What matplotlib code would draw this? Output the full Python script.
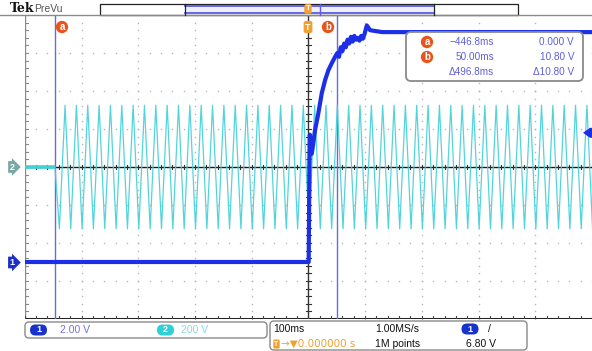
import matplotlib
matplotlib.use("Agg")
import matplotlib.pyplot as plt
import numpy as np
from matplotlib.patches import FancyBboxPatch, Rectangle, Polygon
from matplotlib.transforms import Affine2D

# ---------------- data ----------------
time_per_div_ms = 100
ch1_volts_per_div = 2.0
ch2_volts_per_div = 200
ch1_offset_div = -2.5
ch2_offset_div = 0.0
cursor_a_ms = -446.8
cursor_b_ms = 50.0
cursor_a_v = 0.000
cursor_b_v = 10.80
trigger_level_v = 6.80

# channel 1 (blue): DC output, steps up at trigger then ramps to plateau
ch1_t_ms = [-500, 0, 0.5, 1.8, 2.5, 6, 11.8, 17.6, 23.6, 29.5, 35.3, 41.3, 47.1,
            51, 54, 57, 60, 63, 66, 69, 72, 75, 78, 81, 84, 87, 90, 93, 96, 99,
            103, 108.8, 130, 500]
ch1_v = [0, 0, 0, 5.0, 6.7, 5.7, 6.95, 7.84, 8.89, 9.58, 10.1, 10.47, 10.8,
         11.0, 10.8, 11.3, 11.1, 11.5, 11.3, 11.7, 11.5, 11.85, 11.6, 11.9, 11.7,
         11.8, 11.65, 11.9, 11.75, 12.0, 12.45, 12.2, 12.1, 12.1]

# channel 2 (cyan): mains voltage, switched on at cursor a; extrema of each half cycle
ch2_t_ms = [-500, -446.8,
            -439, -429, -419, -409, -399, -389, -379, -369, -359, -349, -339, -329,
            -319, -309, -299, -289, -279, -269, -259, -249, -239, -229, -219, -209,
            -199, -189, -179, -169, -159, -149, -139, -129, -119, -109, -99, -89,
            -79, -69, -59, -49, -39, -29, -19, -9, 1, 11, 21, 31, 41, 51, 61, 71,
            81, 91, 101, 111, 121, 131, 141, 151, 161, 171, 181, 191, 201, 211,
            221, 231, 241, 251, 261, 271, 281, 291, 301, 311, 321, 331, 341, 351,
            361, 371, 381, 391, 401, 411, 421, 431, 441, 451, 461, 471, 481, 491, 501]
ch2_v = [0, 0,
         -325, 325, -325, 325, -325, 325, -325, 325, -325, 325, -325, 325,
         -325, 325, -325, 325, -325, 325, -325, 325, -325, 325, -325, 325,
         -325, 325, -325, 325, -325, 325, -325, 325, -325, 325, -325, 325,
         -325, 325, -325, 325, -325, 325, -325, 325, -325, 325, -325, 325,
         -325, 325, -325, 325, -325, 325, -325, 325, -325, 325, -325, 325,
         -325, 325, -325, 325, -325, 325, -325, 325, -325, 325, -325, 325,
         -325, 325, -325, 325, -325, 325, -325, 325, -325, 325, -325, 325,
         -325, 325, -325, 325, -325, 325, -325, 325, -325, 325, -325]

# ---------------- figure ----------------
W, H = 592, 351
fig = plt.figure(figsize=(W / 100, H / 100), dpi=100)
fig.patch.set_facecolor("white")
pix = Affine2D().scale(1.0 / W, -1.0 / H).translate(0, 1) + fig.transFigure
FONT = "Liberation Sans"

# plot area: 10 x 8 divisions
X0, X1, Y0, Y1 = 24.8, 592, 15, 319
ax = fig.add_axes([X0 / W, 1 - Y1 / H, (X1 - X0) / W, (Y1 - Y0) / H])
ax.set_xlim(-5 * time_per_div_ms, 5 * time_per_div_ms)
ax.set_ylim(-4, 4)
ax.axis("off")

dotc = "#b4b4b4"
for xm in range(-4, 5):
    if xm == 0:
        continue
    ys = np.arange(-4, 4.001, 0.2)
    ax.plot(np.full_like(ys, xm * time_per_div_ms), ys, ls="none", marker="s",
            ms=1.0, mew=0, color=dotc, zorder=1)
for ym in range(-3, 4):
    if ym == 0:
        continue
    xs = np.arange(-500, 500.1, 20)
    ax.plot(xs, np.full_like(xs, ym), ls="none", marker="s", ms=1.0, mew=0,
            color=dotc, zorder=1)

# centre cross with minor ticks
ax.axhline(0, color="#1a1a1a", lw=1.0, zorder=2)
ax.axvline(0, color="#333333", lw=1.0, zorder=2)
for yy in np.arange(-4, 4.001, 0.2):
    ax.plot([-5, 5], [yy, yy], color="#333333", lw=0.8, zorder=2)
for xx in np.arange(-500, 500.1, 20):
    ax.plot([xx, xx], [-0.06, 0.06], color="#333333", lw=0.8, zorder=2)
# borders
ax.axvline(-500, color="#8a8a8a", lw=1.0, zorder=2)
for yy in np.arange(-4, 4.001, 0.2):
    ax.plot([-500, -495], [yy, yy], color="#8a8a8a", lw=0.8, zorder=2)
ax.axhline(-4, color="#222222", lw=2.2, zorder=2)
for xx in np.arange(-500, 500.1, 20):
    ax.plot([xx, xx], [-4, -3.93], color="#444444", lw=0.8, zorder=2)

# cursors
curc = "#6a6ae0"
ax.axvline(cursor_a_ms, color=curc, lw=1.0, zorder=3)
ax.axvline(cursor_b_ms, color=curc, lw=1.0, zorder=3)

# traces
c2 = "#40d0d8"
t2 = np.array(ch2_t_ms)
v2 = np.array(ch2_v) / ch2_volts_per_div + ch2_offset_div
ax.plot(t2, v2, color=c2, lw=0.9, alpha=0.9, zorder=4)
ax.plot(t2[:2], v2[:2], color=c2, lw=2.6, zorder=4, solid_capstyle="butt")

c1 = "#1c2fe6"
t1 = np.array(ch1_t_ms)
v1 = np.array(ch1_v) / ch1_volts_per_div + ch1_offset_div
ax.plot(t1, v1, color=c1, lw=3.0, zorder=5, solid_joinstyle="round")

# ---------------- header ----------------
fig.add_artist(plt.Line2D([0, W], [Y0, Y0], transform=pix, color="#8a8a8a", lw=1.0))
fig.text(10, 8.5, "Tek", transform=pix, fontsize=9, fontweight="bold",
         family="DejaVu Serif", color="#111111", va="center", ha="left")
fig.text(34, 8.5, "PreVu", transform=pix, fontsize=7.5, family=FONT,
         color="#555555", va="center", ha="left")
fig.add_artist(Rectangle((100, 3.5), 418, 11, transform=pix, fc="white",
                         ec="#222222", lw=0.9))
fig.add_artist(Rectangle((185, 6), 249, 7, transform=pix, fc="#eef0ff",
                         ec="none"))
fig.add_artist(plt.Line2D([185, 434], [6, 6], transform=pix, color="#5b5be6", lw=1.3))
fig.add_artist(plt.Line2D([185, 434], [13, 13], transform=pix, color="#5b5be6", lw=1.3))
fig.add_artist(plt.Line2D([185, 185], [3.5, 14.5], transform=pix, color="#222222", lw=0.9))
fig.add_artist(plt.Line2D([434, 434], [3.5, 14.5], transform=pix, color="#222222", lw=0.9))
fig.add_artist(plt.Line2D([320, 320], [3.5, 14.5], transform=pix, color="#5b5be6", lw=1.0))

orange = "#f0a030"
def tmark(x, y, fs=6.5):
    fig.text(x, y, "T", transform=pix, fontsize=fs, fontweight="bold", family=FONT,
             color="white", ha="center", va="center",
             bbox=dict(boxstyle="round,pad=0.18,rounding_size=0.25", fc=orange, ec="none"))

tmark(308, 9, 5.5)
tmark(308, 27)

red = "#e8541c"
def cmark(x, y, s, fs=7):
    fig.text(x, y, s, transform=pix, fontsize=fs, fontweight="bold", family=FONT,
             color="white", ha="center", va="center",
             bbox=dict(boxstyle="circle,pad=0.12", fc=red, ec="none"))

cmark(62, 27, "a")
cmark(328, 27, "b")

# channel markers at left
fig.text(12, 167, "2", transform=pix, fontsize=6.5, fontweight="bold", family=FONT,
         color="white", ha="center", va="center",
         bbox=dict(boxstyle="rarrow,pad=0.15", fc="#7aa6a6", ec="none"))
fig.text(12, 262.5, "1", transform=pix, fontsize=6.5, fontweight="bold", family=FONT,
         color="white", ha="center", va="center",
         bbox=dict(boxstyle="rarrow,pad=0.15", fc="#1a2ecc", ec="none"))
# trigger level marker on right
ty = Y0 + (4 - (trigger_level_v / ch1_volts_per_div + ch1_offset_div)) * (Y1 - Y0) / 8
fig.add_artist(Polygon([[583, ty], [590, ty - 5], [592, ty - 5], [592, ty + 5], [590, ty + 5]],
                       closed=True, transform=pix, fc=c1, ec="none"))

# ---------------- cursor readout ----------------
fig.add_artist(FancyBboxPatch((406, 32), 177, 49, transform=pix,
                              boxstyle="round,pad=0,rounding_size=5",
                              fc="white", ec="#8a8a8a", lw=1.3, zorder=6))
txtc = "#5f5fd8"
cmark_rows = [(42, "a"), (57, "b")]
for yy, s in cmark_rows:
    fig.text(427, yy, s, transform=pix, fontsize=7, fontweight="bold", family=FONT,
             color="white", ha="center", va="center", zorder=7,
             bbox=dict(boxstyle="circle,pad=0.12", fc=red, ec="none"))
rows = [
    (42, f"\u2212{abs(cursor_a_ms):.1f}ms", f"{cursor_a_v:.3f} V"),
    (57, f"{cursor_b_ms:.2f}ms", f"{cursor_b_v:.2f} V"),
    (72, f"\u0394{cursor_b_ms - cursor_a_ms:.1f}ms", f"\u0394{cursor_b_v - cursor_a_v:.2f} V"),
]
for yy, a, b in rows:
    fig.text(494, yy, a, transform=pix, fontsize=7.2, family=FONT, color=txtc,
             ha="right", va="center", zorder=7)
    fig.text(574, yy, b, transform=pix, fontsize=7.2, family=FONT, color=txtc,
             ha="right", va="center", zorder=7)

# ---------------- bottom status bar ----------------
fig.add_artist(FancyBboxPatch((25, 322), 242, 16, transform=pix,
                              boxstyle="round,pad=0,rounding_size=4",
                              fc="white", ec="#8a8a8a", lw=1.0))
fig.add_artist(FancyBboxPatch((270, 321), 257, 29, transform=pix,
                              boxstyle="round,pad=0,rounding_size=4",
                              fc="white", ec="#8a8a8a", lw=1.0))

def badge(x, y, s, fc):
    fig.add_artist(FancyBboxPatch((x - 8.5, y - 5.5), 17, 11, transform=pix,
                                  boxstyle="round,pad=0,rounding_size=5.5",
                                  fc=fc, ec="none"))
    fig.text(x, y, s, transform=pix, fontsize=6.5, fontweight="bold", family=FONT,
             color="white", ha="center", va="center")

badge(38.5, 330, "1", "#1733cc")
fig.text(60, 330, f"{ch1_volts_per_div:.2f} V", transform=pix, fontsize=7.5,
         family=FONT, color="#7272e0", ha="left", va="center")
badge(165.5, 330, "2", "#2ed0d8")
fig.text(181, 330, f"{ch2_volts_per_div:.0f} V", transform=pix, fontsize=7.5,
         family=FONT, color="#80dde2", ha="left", va="center")

fig.text(273, 329, f"{time_per_div_ms}ms", transform=pix, fontsize=7.5,
         family=FONT, color="#111111", ha="left", va="center")
fig.text(375, 329, "1.00MS/s", transform=pix, fontsize=7.5,
         family=FONT, color="#111111", ha="left", va="center")
badge(470, 329, "1", "#1733cc")
fig.text(488, 329, "/", transform=pix, fontsize=7.5,
         family=FONT, color="#111111", ha="left", va="center")
fig.text(276.5, 344, "T", transform=pix, fontsize=5, fontweight="bold", family=FONT,
         color="white", ha="center", va="center",
         bbox=dict(boxstyle="round,pad=0.15", fc=orange, ec="none"))
fig.text(281, 344, "\u2192\u25bc0.000000 s", transform=pix, fontsize=7.5,
         family=["DejaVu Sans"], color=orange, ha="left", va="center")
fig.text(375, 344, "1M points", transform=pix, fontsize=7.5,
         family=FONT, color="#111111", ha="left", va="center")
fig.text(466, 344, f"{trigger_level_v:.2f} V", transform=pix, fontsize=7.5,
         family=FONT, color="#111111", ha="left", va="center")

fig.savefig("out.png", dpi=100, facecolor="white")
